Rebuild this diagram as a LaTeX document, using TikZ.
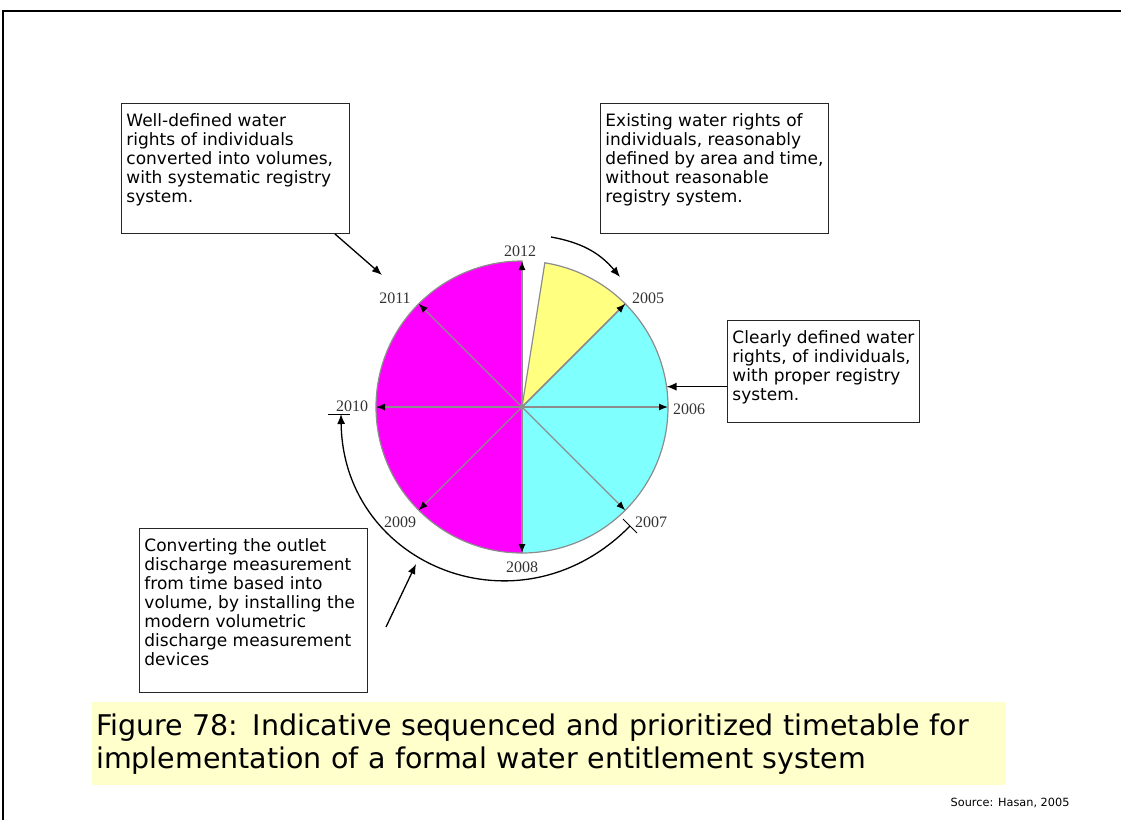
\documentclass[tikz,border=0pt]{standalone}
\usepackage{fontspec}
\setmainfont{DejaVu Sans}
\newfontfamily\yearfont{Liberation Serif}
\usepackage{xcolor}
\definecolor{wedgeline}{HTML}{8C8C8C}
\definecolor{sectyellow}{HTML}{FFFF80}
\definecolor{sectcyan}{HTML}{80FFFF}
\definecolor{sectmagenta}{HTML}{FF00FF}
\definecolor{captionbg}{HTML}{FFFFCC}
\definecolor{yeartext}{HTML}{333333}
\usetikzlibrary{arrows.meta, calc}

\begin{document}
\begin{tikzpicture}[x=1pt, y=1pt,
  notebox/.style={draw=black!85, line width=0.9pt, inner xsep=5pt, inner ysep=10pt,
                  anchor=north west, font=\fontsize{17}{19}\selectfont},
  yearlbl/.style={font=\yearfont\fontsize{16}{16}\selectfont, text=yeartext, inner sep=0pt},
  wedge/.style={draw=wedgeline, line width=1.2pt},
  spoke/.style={wedgeline, line width=1.2pt, -{Latex[black, length=9pt, width=7pt]}},
  pointer/.style={black, line width=1.3pt, -{Latex[length=10pt, width=8pt]}}]

  \useasboundingbox (0,0) rectangle (1121,-820);

  % page frame
  \draw[line width=2.5pt] (3,-820) -- (3,-11) -- (1121,-11);

  % the year wheel
  \coordinate (ctr) at (522,-407);
  \filldraw[wedge, fill=sectmagenta] (ctr) -- ++(90:146)
    arc[start angle=90, end angle=270, radius=146] -- cycle;
  \filldraw[wedge, fill=sectcyan] (ctr) -- ++(-90:146)
    arc[start angle=-90, end angle=45, radius=146] -- cycle;
  \filldraw[wedge, fill=sectyellow] (ctr) -- ++(45:146)
    arc[start angle=45, end angle=81, radius=146] -- cycle;

  \foreach \ang/\yr in {90/2012, 45/2005, 0/2006, -45/2007,
                        -90/2008, -135/2009, 180/2010, 135/2011} {
    \path (ctr) ++(\ang:146) coordinate (p\yr);
    \draw[spoke] (ctr) -- (p\yr);
  }

  \node[yearlbl] (y2012) at (520,-251) {2012};
  \node[yearlbl] (y2005) at (648,-298) {2005};
  \node[yearlbl] (y2006) at (689,-409) {2006};
  \node[yearlbl] (y2007) at (651,-522) {2007};
  \node[yearlbl] (y2008) at (522,-567) {2008};
  \node[yearlbl] (y2009) at (400,-522) {2009};
  \node[yearlbl] (y2010) at (352,-406) {2010};
  \node[yearlbl] (y2011) at (395,-298) {2011};

  % long run 2007 -> 2010
  \coordinate (arcw) at (341,-414);
  \coordinate (arce) at (630,-526);
  \draw[line width=1pt] (328,-414) -- (350,-414);
  \draw[line width=1pt] (623,-519) -- (637,-533);
  \draw[pointer] (arce) .. controls (520,-638) and (343,-566) .. (arcw);

  % notes
  \node[notebox] (wellbox) at (121,-103)
    {\parbox[t][110pt][t]{218pt}{\raggedright
     Well-defined water\\rights of individuals\\converted into volumes,\\
     with systematic registry\\system.}};
  \node[notebox] (existbox) at (600,-103)
    {\parbox[t][110pt][t]{218pt}{\raggedright
     Existing water rights of\\individuals, reasonably\\defined by area and time,\\
     without reasonable\\registry system.}};
  \node[notebox] (clearbox) at (727,-320)
    {\parbox[t][82pt][t]{182pt}{\raggedright
     Clearly defined water\\rights, of individuals,\\with proper registry\\system.}};
  \node[notebox] (convbox) at (139,-528)
    {\parbox[t][144pt][t]{218pt}{\raggedright
     Converting the outlet\\discharge measurement\\from time based into\\
     volume, by installing the\\modern volumetric\\discharge measurement\\devices}};

  \coordinate (tip2011) at (382,-275);
  \coordinate (runstart) at (551,-237);
  \coordinate (tip2005) at (620,-277);
  \coordinate (rim2006) at ($(ctr)+(8:146)$);
  \coordinate (convtail) at (386,-627);
  \coordinate (convtip) at (416,-564);

  \draw[pointer] ($(wellbox.south east)+(-15,0)$) -- (tip2011);
  \draw[pointer] (runstart) to[bend left=20] (tip2005);
  \draw[pointer] (clearbox.west |- rim2006) -- (rim2006);
  \draw[pointer] (convtail) -- (convtip);

  % caption
  \node[fill=captionbg, anchor=north west, minimum width=914pt, minimum height=83pt,
        text width=906pt, inner sep=4pt, align=left,
        font=\fontsize{28.5}{33}\selectfont] (caption) at (92,-702)
    {Figure 78: Indicative sequenced and prioritized timetable for\\
     implementation of a formal water entitlement system};

  \node[anchor=east, font=\fontsize{11.3}{13}\selectfont] (source) at (1073,-803)
    {Source: Hasan, 2005};

\end{tikzpicture}
\end{document}
